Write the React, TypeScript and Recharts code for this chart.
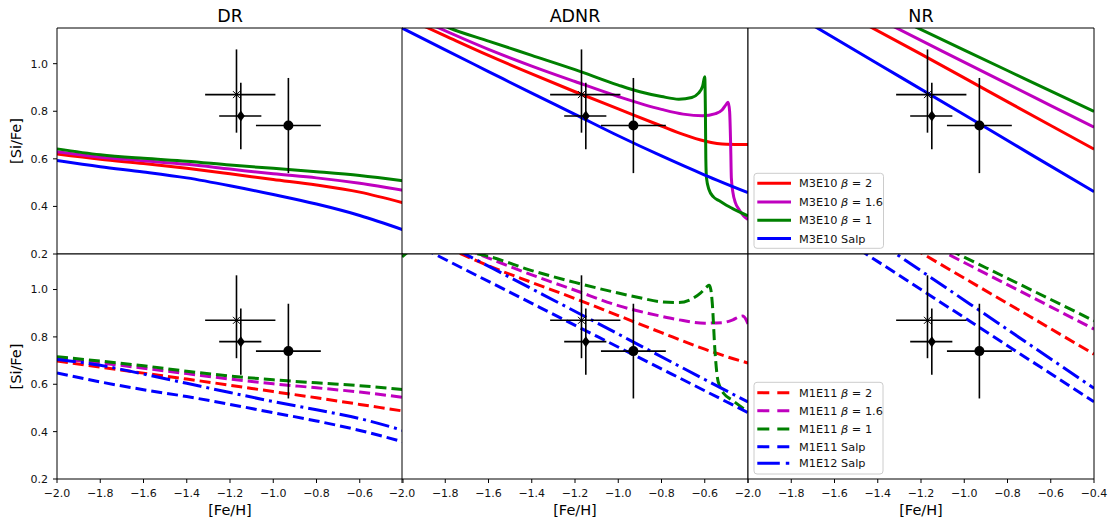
import React from "react";
import {
  ComposedChart,
  Line,
  Scatter,
  XAxis,
  YAxis,
  CartesianGrid,
  ErrorBar,
} from "recharts";

type Pt = [number, number];

// observed stars: [Fe/H], [Si/Fe], errors as [low, high]
const obsPoints = [
  { x: -1.17, y: 0.87, ex: [0.145, 0.18], ey: [0.16, 0.19], kind: "x" },
  { x: -1.15, y: 0.78, ex: [0.1, 0.095], ey: [0.14, 0.14], kind: "d" },
  { x: -0.93, y: 0.74, ex: [0.15, 0.15], ey: [0.2, 0.2], kind: "o" },
];

const xTicks = [-2.0, -1.8, -1.6, -1.4, -1.2, -1.0, -0.8, -0.6, -0.4];
const yTicks = [0.2, 0.4, 0.6, 0.8, 1.0];
const panelTitles = ["DR", "ADNR", "NR"];

// ---- top row, M3E10 models (solid) ----
const drRed: Pt[] = [[-2.0, 0.62], [-1.8, 0.598], [-1.6, 0.58], [-1.4, 0.56], [-1.2, 0.537], [-1.0, 0.513], [-0.8, 0.49], [-0.6, 0.46], [-0.4, 0.415]];
const drMag: Pt[] = [[-2.0, 0.63], [-1.8, 0.607], [-1.6, 0.592], [-1.4, 0.577], [-1.2, 0.557], [-1.0, 0.537], [-0.8, 0.52], [-0.6, 0.497], [-0.4, 0.468]];
const drGrn: Pt[] = [[-2.0, 0.642], [-1.8, 0.617], [-1.6, 0.602], [-1.4, 0.59], [-1.2, 0.574], [-1.0, 0.56], [-0.8, 0.546], [-0.6, 0.53], [-0.4, 0.508]];
const drBlu: Pt[] = [[-2.0, 0.593], [-1.8, 0.567], [-1.6, 0.545], [-1.4, 0.52], [-1.2, 0.487], [-1.0, 0.45], [-0.8, 0.41], [-0.6, 0.362], [-0.4, 0.302]];

const adRed: Pt[] = [[-2.0, 1.2], [-1.88, 1.15], [-1.8, 1.117], [-1.6, 1.035], [-1.4, 0.957], [-1.2, 0.882], [-1.0, 0.81], [-0.8, 0.738], [-0.7, 0.703], [-0.6, 0.675], [-0.5, 0.661], [-0.4, 0.66]];
const adMag: Pt[] = [[-2.0, 1.22], [-1.83, 1.15], [-1.6, 1.06], [-1.4, 0.99], [-1.2, 0.925], [-1.0, 0.862], [-0.8, 0.808], [-0.7, 0.788], [-0.61, 0.781], [-0.55, 0.79], [-0.52, 0.805], [-0.5, 0.83], [-0.492, 0.838], [-0.485, 0.8], [-0.48, 0.65], [-0.477, 0.52], [-0.47, 0.46], [-0.458, 0.415], [-0.44, 0.385], [-0.42, 0.36], [-0.4, 0.345]];
const adGrn: Pt[] = [[-2.0, 1.25], [-1.78, 1.15], [-1.6, 1.095], [-1.4, 1.035], [-1.2, 0.975], [-1.0, 0.91], [-0.9, 0.882], [-0.8, 0.862], [-0.72, 0.851], [-0.66, 0.858], [-0.63, 0.875], [-0.61, 0.905], [-0.6, 0.945], [-0.597, 0.8], [-0.595, 0.6], [-0.592, 0.52], [-0.58, 0.47], [-0.56, 0.44], [-0.535, 0.425], [-0.5, 0.405], [-0.473, 0.392], [-0.4, 0.36]];
const adBlu: Pt[] = [[-2.0, 1.15], [-1.8, 1.058], [-1.6, 0.967], [-1.4, 0.876], [-1.2, 0.787], [-1.0, 0.697], [-0.8, 0.612], [-0.6, 0.532], [-0.4, 0.458]];

const nrRed: Pt[] = [[-1.5, 1.187], [-1.2, 1.04], [-0.9, 0.89], [-0.6, 0.74], [-0.4, 0.641]];
const nrMag: Pt[] = [[-1.4, 1.19], [-1.1, 1.052], [-0.8, 0.915], [-0.6, 0.824], [-0.4, 0.733]];
const nrGrn: Pt[] = [[-1.3, 1.187], [-1.0, 1.057], [-0.7, 0.928], [-0.4, 0.799]];
const nrBlu: Pt[] = [[-1.75, 1.188], [-1.4, 1.0], [-1.0, 0.785], [-0.7, 0.623], [-0.4, 0.462]];

// ---- bottom row, M1E11 / M1E12 models (dashed) ----
const drRedD: Pt[] = [[-2.0, 0.698], [-1.8, 0.672], [-1.6, 0.647], [-1.4, 0.622], [-1.2, 0.596], [-1.0, 0.569], [-0.8, 0.543], [-0.6, 0.515], [-0.4, 0.487]];
const drMagD: Pt[] = [[-2.0, 0.708], [-1.8, 0.69], [-1.6, 0.668], [-1.4, 0.645], [-1.2, 0.622], [-1.0, 0.602], [-0.8, 0.585], [-0.6, 0.567], [-0.4, 0.545]];
const drGrnD: Pt[] = [[-2.0, 0.716], [-1.8, 0.698], [-1.6, 0.678], [-1.4, 0.655], [-1.2, 0.635], [-1.0, 0.619], [-0.8, 0.606], [-0.6, 0.594], [-0.4, 0.578]];
const drBluD: Pt[] = [[-2.0, 0.648], [-1.8, 0.61], [-1.6, 0.577], [-1.4, 0.548], [-1.2, 0.515], [-1.0, 0.48], [-0.8, 0.445], [-0.6, 0.405], [-0.4, 0.357]];
const drBluDD: Pt[] = [[-2.0, 0.705], [-1.8, 0.68], [-1.6, 0.643], [-1.4, 0.604], [-1.2, 0.565], [-1.0, 0.527], [-0.8, 0.492], [-0.6, 0.455], [-0.4, 0.405]];

const adRedD: Pt[] = [[-1.8, 1.18], [-1.6, 1.1], [-1.4, 1.03], [-1.2, 0.962], [-1.0, 0.89], [-0.8, 0.818], [-0.6, 0.748], [-0.5, 0.717], [-0.4, 0.69]];
const adMagD: Pt[] = [[-1.7, 1.17], [-1.6, 1.133], [-1.4, 1.062], [-1.2, 0.997], [-1.0, 0.932], [-0.8, 0.887], [-0.7, 0.869], [-0.6, 0.858], [-0.52, 0.86], [-0.47, 0.872], [-0.44, 0.885], [-0.425, 0.888], [-0.41, 0.875], [-0.4, 0.855]];
const adGrnD: Pt[] = [[-2.0, 1.138], [-1.97, 1.16], [-1.9, 1.19], [-1.8, 1.185], [-1.7, 1.16], [-1.6, 1.14], [-1.4, 1.08], [-1.2, 1.03], [-1.0, 0.985], [-0.9, 0.965], [-0.8, 0.948], [-0.72, 0.945], [-0.66, 0.96], [-0.62, 0.985], [-0.59, 1.012], [-0.58, 1.018], [-0.572, 1.0], [-0.565, 0.94], [-0.553, 0.744], [-0.542, 0.631], [-0.53, 0.59], [-0.512, 0.561], [-0.473, 0.533], [-0.4, 0.484]];
const adBluD: Pt[] = [[-1.9, 1.173], [-1.5, 0.988], [-1.1, 0.803], [-0.75, 0.642], [-0.4, 0.48]];
const adBluDD: Pt[] = [[-1.75, 1.17], [-1.45, 1.027], [-1.15, 0.884], [-0.85, 0.74], [-0.6, 0.62], [-0.4, 0.525]];

const nrRedD: Pt[] = [[-1.3, 1.209], [-1.0, 1.048], [-0.7, 0.888], [-0.4, 0.727]];
const nrMagD: Pt[] = [[-1.2, 1.208], [-0.9, 1.067], [-0.6, 0.927], [-0.4, 0.833]];
const nrGrnD: Pt[] = [[-1.2, 1.226], [-0.9, 1.092], [-0.6, 0.958], [-0.4, 0.868]];
const nrBluD: Pt[] = [[-1.55, 1.207], [-1.2, 1.0], [-0.8, 0.763], [-0.4, 0.526]];
const nrBluDD: Pt[] = [[-1.4, 1.203], [-1.0, 0.955], [-0.7, 0.769], [-0.4, 0.583]];

const topLegend = ["M3E10 β = 2", "M3E10 β = 1.6", "M3E10 β = 1", "M3E10 Salp"];
const bottomLegend = ["M1E11 β = 2", "M1E11 β = 1.6", "M1E11 β = 1", "M1E11 Salp", "M1E12 Salp"];

const RED = "#ff0000";
const MAG = "#bf00bf";
const GRN = "#008000";
const BLU = "#0000ff";
const DASH = "11 5";
const DASHDOT = "19 5 3 5";

type Series = { data: Pt[]; color: string; dash?: string };

const topStyles = [
  { color: RED }, { color: MAG }, { color: GRN }, { color: BLU },
];
const bottomStyles = [
  { color: RED, dash: DASH }, { color: MAG, dash: DASH }, { color: GRN, dash: DASH },
  { color: BLU, dash: DASH }, { color: BLU, dash: DASHDOT },
];

const withStyle = (sets: Pt[][], styles: { color: string; dash?: string }[]): Series[] =>
  sets.map((d, i) => ({ data: d, ...styles[i] }));

const panels: Series[][] = [
  withStyle([drRed, drMag, drGrn, drBlu], topStyles),
  withStyle([adRed, adMag, adGrn, adBlu], topStyles),
  withStyle([nrRed, nrMag, nrGrn, nrBlu], topStyles),
  withStyle([drRedD, drMagD, drGrnD, drBluD, drBluDD], bottomStyles),
  withStyle([adRedD, adMagD, adGrnD, adBluD, adBluDD], bottomStyles),
  withStyle([nrRedD, nrMagD, nrGrnD, nrBluD, nrBluDD], bottomStyles),
];

// layout (px)
const COL_LEFT = [57, 402, 748];
const PW = 346;
const ROW_TOP = [28, 254];
const ROW_H = [226, 225];
const M = 34; // chart margin
const A = 1; // axis band (recharts skips axes of zero size)
const FONT = "'DejaVu Sans', sans-serif";

const fmt = (v: number) => (v < 0 ? "\u2212" : "") + Math.abs(v).toFixed(1);

const Marker = (props: any) => {
  const { cx, cy, payload } = props;
  if (payload.kind === "x") {
    return (
      <g stroke="#000" strokeWidth={1}>
        <line x1={cx - 3.5} y1={cy - 3.5} x2={cx + 3.5} y2={cy + 3.5} />
        <line x1={cx - 3.5} y1={cy + 3.5} x2={cx + 3.5} y2={cy - 3.5} />
      </g>
    );
  }
  if (payload.kind === "d") {
    return (
      <polygon
        points={`${cx},${cy - 5.5} ${cx + 4},${cy} ${cx},${cy + 5.5} ${cx - 4},${cy}`}
        fill="#000"
      />
    );
  }
  return <circle cx={cx} cy={cy} r={5} fill="#000" />;
};

const Panel = ({ idx }: { idx: number }) => {
  const row = Math.floor(idx / 3);
  const col = idx % 3;
  const ph = ROW_H[row];
  const lastCol = col === 2;
  return (
    <div style={{ position: "absolute", left: COL_LEFT[col] - M - A, top: ROW_TOP[row] - M - A }}>
      <ComposedChart
        width={PW + 2 * (M + A)}
        height={ph + 2 * (M + A)}
        margin={{ top: M, right: M, bottom: M, left: M }}
      >
        <CartesianGrid xAxisId="b" yAxisId="l" fill="#fff" horizontal={false} vertical={false} />
        <XAxis
          xAxisId="b"
          type="number"
          dataKey="x"
          domain={[-2, -0.4]}
          ticks={xTicks}
          allowDataOverflow
          height={A}
          stroke="#000"
          tickSize={4}
          tickMargin={6}
          interval={0}
          tick={row === 1 ? { fill: "#111", fontSize: 11 } : false}
          tickFormatter={(v: number) => (!lastCol && v > -0.5 ? "" : fmt(v))}
        />
        <XAxis
          xAxisId="t"
          orientation="top"
          type="number"
          dataKey="x"
          domain={[-2, -0.4]}
          ticks={xTicks}
          allowDataOverflow
          height={A}
          stroke="#000"
          tickSize={4}
          interval={0}
          tick={false}
        />
        <YAxis
          yAxisId="l"
          type="number"
          dataKey="y"
          domain={[0.2, 1.15]}
          ticks={yTicks}
          allowDataOverflow
          width={A}
          stroke="#000"
          tickSize={4}
          tickMargin={5}
          interval={0}
          tick={col === 0 ? { fill: "#111", fontSize: 11 } : false}
          tickFormatter={(v: number) => v.toFixed(1)}
        />
        <YAxis
          yAxisId="r"
          orientation="right"
          type="number"
          domain={[0.2, 1.15]}
          ticks={yTicks}
          allowDataOverflow
          width={A}
          stroke="#000"
          tickSize={4}
          interval={0}
          tick={false}
        />
        {panels[idx].map((s, i) => (
          <Line
            key={i}
            xAxisId="b"
            yAxisId="l"
            type="monotone"
            data={s.data.map(([x, y]) => ({ x, y }))}
            dataKey="y"
            stroke={s.color}
            strokeWidth={3}
            strokeDasharray={s.dash}
            dot={false}
            activeDot={false}
            isAnimationActive={false}
          />
        ))}
        <Scatter
          xAxisId="b"
          yAxisId="l"
          data={obsPoints}
          dataKey="y"
          shape={Marker}
          isAnimationActive={false}
        >
          <ErrorBar dataKey="ex" direction="x" width={0} stroke="#000" strokeWidth={1.6} isAnimationActive={false} />
          <ErrorBar dataKey="ey" direction="y" width={0} stroke="#000" strokeWidth={1.6} isAnimationActive={false} />
        </Scatter>
      </ComposedChart>
    </div>
  );
};

const LegendBox = ({
  labels,
  styles,
  left,
  top,
  width,
  height,
  rows,
}: {
  labels: string[];
  styles: { color: string; dash?: string }[];
  left: number;
  top: number;
  width: number;
  height: number;
  rows: number[];
}) => (
  <g>
    <rect x={left} y={top} width={width} height={height} rx={3} fill="#fff" fillOpacity={0.8} stroke="#cccccc" strokeWidth={1} />
    {labels.map((lab, i) => {
      const [pre, post] = lab.split("β");
      const y = rows[i];
      return (
        <g key={lab}>
          <line
            x1={757.3}
            x2={791}
            y1={y}
            y2={y}
            stroke={styles[i].color}
            strokeWidth={3}
            strokeDasharray={styles[i].dash === DASH ? "12 8" : styles[i].dash === DASHDOT ? "22.5 6 3.5 6" : undefined}
          />
          <text x={799} y={y + 4.1} fontSize={11.3} fill="#111">
            {post === undefined ? (
              pre
            ) : (
              <>
                {pre}
                <tspan fontStyle="italic">β</tspan>
                {post}
              </>
            )}
          </text>
        </g>
      );
    })}
  </g>
);

export default function App() {
  const colCenter = COL_LEFT.map((l) => l + PW / 2);
  return (
    <div
      style={{
        position: "absolute",
        left: 0,
        top: 0,
        width: 1116,
        height: 525,
        background: "#fff",
        fontFamily: FONT,
      }}
    >
      {[0, 1, 2, 3, 4, 5].map((i) => (
        <Panel key={i} idx={i} />
      ))}
      <svg
        width={1116}
        height={525}
        style={{ position: "absolute", left: 0, top: 0, pointerEvents: "none", fontFamily: FONT }}
      >
        {panelTitles.map((t, i) => (
          <text key={t} x={colCenter[i]} y={21.7} textAnchor="middle" fontSize={17.5} fill="#000">
            {t}
          </text>
        ))}
        {colCenter.map((cx, i) => (
          <text key={i} x={cx} y={514.5} textAnchor="middle" fontSize={14.5} fill="#000">
            [Fe/H]
          </text>
        ))}
        {[141, 366.5].map((cy, i) => (
          <text
            key={i}
            transform={`translate(21.4, ${cy}) rotate(-90)`}
            textAnchor="middle"
            fontSize={14.5}
            fill="#000"
          >
            [Si/Fe]
          </text>
        ))}
        <LegendBox
          labels={topLegend}
          styles={topStyles}
          left={754}
          top={173.3}
          width={129.5}
          height={75}
          rows={[183.3, 202, 220.2, 238.4]}
        />
        <LegendBox
          labels={bottomLegend}
          styles={bottomStyles}
          left={754}
          top={382.3}
          width={129}
          height={91.7}
          rows={[392.7, 410.7, 429, 446.7, 463.3]}
        />
      </svg>
    </div>
  );
}
